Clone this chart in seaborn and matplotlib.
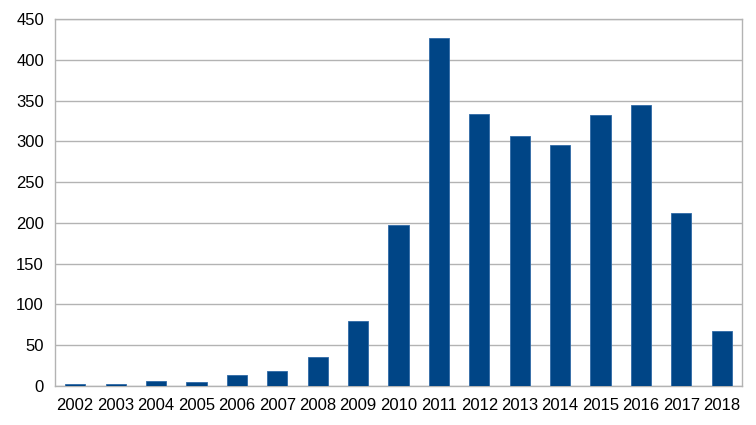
import matplotlib
matplotlib.use('Agg')
import matplotlib.pyplot as plt
import seaborn as sns
import pandas as pd
import numpy as np

# --- DATA ---
years = ["2002", "2003", "2004", "2005", "2006", "2007", "2008", "2009", "2010",
         "2011", "2012", "2013", "2014", "2015", "2016", "2017", "2018"]
counts = [3, 3, 6, 5, 13, 18, 36, 80, 198, 427, 333, 307, 295, 332, 345, 212, 67]
y_ticks = [0, 50, 100, 150, 200, 250, 300, 350, 400, 450]

BAR_COLOR = "#004586"
GRID_COLOR = "#b3b3b3"

sns.set_style("white")
plt.rcParams['font.family'] = ['Liberation Sans', 'DejaVu Sans']

df = pd.DataFrame({"year": years, "count": counts})

fig = plt.figure(figsize=(7.56, 4.25), dpi=100)
ax = fig.add_axes([55 / 756, 1 - 386 / 425, (742 - 55) / 756, (386 - 19) / 425])

sns.barplot(data=df, x="year", y="count", color=BAR_COLOR, width=0.5,
            saturation=1, edgecolor="#2f6aa6", linewidth=0.6, ax=ax, zorder=3)

ax.set_ylim(0, 450)
ax.set_xlim(-0.5, len(years) - 0.5)
ax.set_yticks(y_ticks)
ax.yaxis.grid(True, color=GRID_COLOR, linewidth=1, zorder=0)
ax.set_axisbelow(True)

# tick marks between categories on x, outward ticks on y
ax.set_xticks(np.arange(len(years) + 1) - 0.5, minor=True)
ax.tick_params(axis="x", which="major", length=0, labelsize=12, pad=9, colors="black")
ax.tick_params(axis="x", which="minor", length=5, color=GRID_COLOR, width=1)
ax.tick_params(axis="y", which="major", length=5, color=GRID_COLOR, width=1,
               labelsize=12, pad=3, labelcolor="black")

for side in ["left", "right", "top", "bottom"]:
    ax.spines[side].set_color(GRID_COLOR)
    ax.spines[side].set_linewidth(1)

ax.set_xlabel("")
ax.set_ylabel("")

plt.savefig("out.png", dpi=100)
plt.close()
